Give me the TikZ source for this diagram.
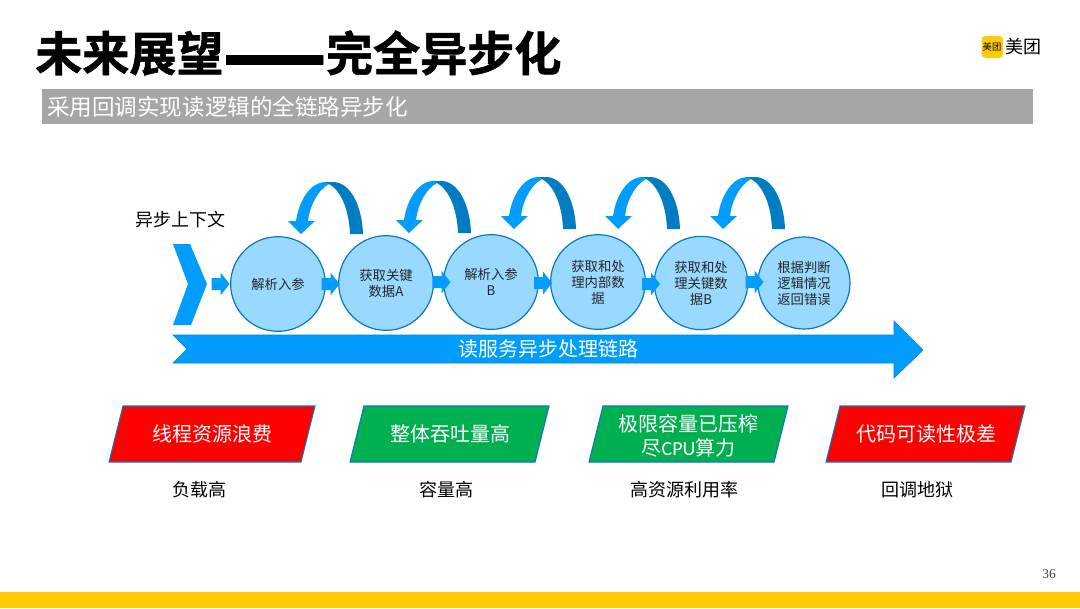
\documentclass[tikz,border=0pt]{standalone}
\usepackage{fontspec}
\setmainfont{Noto Sans CJK SC}
\newfontfamily\cpufont{Carlito}
\newfontfamily\pagefont{Liberation Serif}
\newfontfamily\headfont[UprightFeatures={FakeBold=1.2}]{Noto Sans CJK SC Bold}
\usepackage{tikz}
\usetikzlibrary{calc}
\definecolor{flowblue}{HTML}{009DFF}
\definecolor{flowdark}{HTML}{007CC3}
\definecolor{edgeblue}{HTML}{0A78BE}
\definecolor{circlefill}{HTML}{99D9FF}
\definecolor{barhead}{HTML}{A6A6A6}
\definecolor{footyellow}{HTML}{FFCC00}
\definecolor{okgreen}{HTML}{00B050}
\tikzset{
  stepcircle/.style={circle, draw=edgeblue, line width=0.9pt, fill=circlefill, minimum size=71pt, inner sep=0pt, align=center, font=\fontsize{10}{12}\selectfont, text=black!85},
  sumtext/.style={font=\fontsize{15}{18}\selectfont, text=white, align=center},
  costtext/.style={font=\fontsize{13.5}{16}\selectfont, text=black},
}
\begin{document}
\begin{tikzpicture}[x=0.75pt, y=-0.75pt]
        \useasboundingbox (0,0) rectangle (1080,608);

        % header
        \node[anchor=base west, inner sep=0pt, font=\headfont\fontsize{35.3}{40}\selectfont] (title) at (35,71) {未来展望\raisebox{-12pt}{\scalebox{1.28}[2]{——}}完全异步化};
        \fill[barhead] (42,89) rectangle (1033,124);
        \node[anchor=west, inner sep=0pt, text=white, font=\fontsize{16.9}{20}\selectfont] (subtitle) at (47,106.5) {采用回调实现读逻辑的全链路异步化};

        % logo
        \fill[footyellow, rounded corners=3pt] (981.5,36) rectangle (1003,58);
        \node[inner sep=0pt, font=\fontsize{7}{8}\selectfont] (logosmall) at (992,47) {美团};
        \node[inner sep=0pt, font=\fontsize{13.5}{14}\selectfont] (logobig) at (1023.5,47) {美团};

        % footer
        \fill[footyellow] (0,592) rectangle (1080,608);
        \node[inner sep=0pt, text=black!75, font=\pagefont\fontsize{10}{12}\selectfont] (pagenum) at (1049,574) {36};

        % entry chevron and label
        \node[inner sep=0pt, font=\fontsize{13.5}{16}\selectfont] (ctx) at (180,220) {异步上下文};
        \fill[flowblue] (173,244) -- (190,244) -- (207,284) -- (191,325) -- (173,325) -- (188,284) -- cycle;

        % curved arrows over the steps
        \foreach \ox/\oy in {0/0,108/-1,213/-5,317/-5,422/-5} {
          \begin{scope}[shift={(\ox,\oy)}]
            \fill[flowdark] (350,234) .. controls (349,208) and (340,190) .. (329,184) -- (322,182) -- (333,182) .. controls (350,182) and (362,205) .. (363,234) -- cycle;
            \fill[flowblue] (296,221) .. controls (299,200) and (311,182) .. (325,182) -- (329,184) .. controls (318,190) and (310,205) .. (308,221) -- (315,221) -- (301,234) -- (288,221) -- cycle;
          \end{scope}
        }

        % steps
        \node[stepcircle] (parseA) at (278,284) {解析入参};
        \node[stepcircle] (fetchA) at (386,283) {获取关键\\数据A};
        \node[stepcircle] (parseB) at (491,282) {解析入参\\B};
        \node[stepcircle] (inner) at (598,282) {获取和处\\理内部数\\据};
        \node[stepcircle, minimum size=70pt] (fetchB) at (701,283) {获取和处\\理关键数\\据B};
        \node[stepcircle, minimum size=69pt] (reply) at (804,283) {根据判断\\逻辑情况\\返回错误};

        % small arrows between the steps
        \foreach \ax/\ay in {220.5/284,330.5/284,441.5/282,543/283,651/284,754.5/282} {
          \begin{scope}[shift={(\ax,\ay)}]
            \fill[flowblue] (-9,-6) -- (0,-6) -- (0,-11.5) -- (9,0) -- (0,11.5) -- (0,6) -- (-9,6) -- cycle;
          \end{scope}
        }

        % long chain arrow
        \draw[fill=flowblue, draw=flowblue!85!black, line width=0.5pt] (173,335) -- (894,335) -- (894,321) -- (923,350) -- (894,378) -- (894,363) -- (173,363) -- (187,349) -- cycle;
        \node[inner sep=0pt, text=white, font=\fontsize{15}{18}\selectfont] (chain) at (548,349) {读服务异步处理链路};

        % summary boxes
        \foreach \bx/\bw/\bfill in {109/192/red,350/185/okgreen,589/185/okgreen,826/185/red} {
          \draw[fill=\bfill, draw=edgeblue, line width=0.8pt] (\bx+14,406) -- (\bx+\bw+14,406) -- (\bx+\bw,462) -- (\bx,462) -- cycle;
        }
        \node[sumtext] (waste) at (212,434) {线程资源浪费};
        \node[sumtext] (tput) at (450,434) {整体吞吐量高};
        \node[sumtext] (limit) at (688.5,436) {极限容量已压榨\\尽{\cpufont CPU}算力};
        \node[sumtext] (readable) at (926,434) {代码可读性极差};

        % costs
        \node[costtext] (load) at (199,490) {负载高};
        \node[costtext] (cap) at (446,490) {容量高};
        \node[costtext] (usage) at (684,490) {高资源利用率};
        \node[costtext] (hell) at (917,490) {回调地狱};
\end{tikzpicture}
\end{document}
